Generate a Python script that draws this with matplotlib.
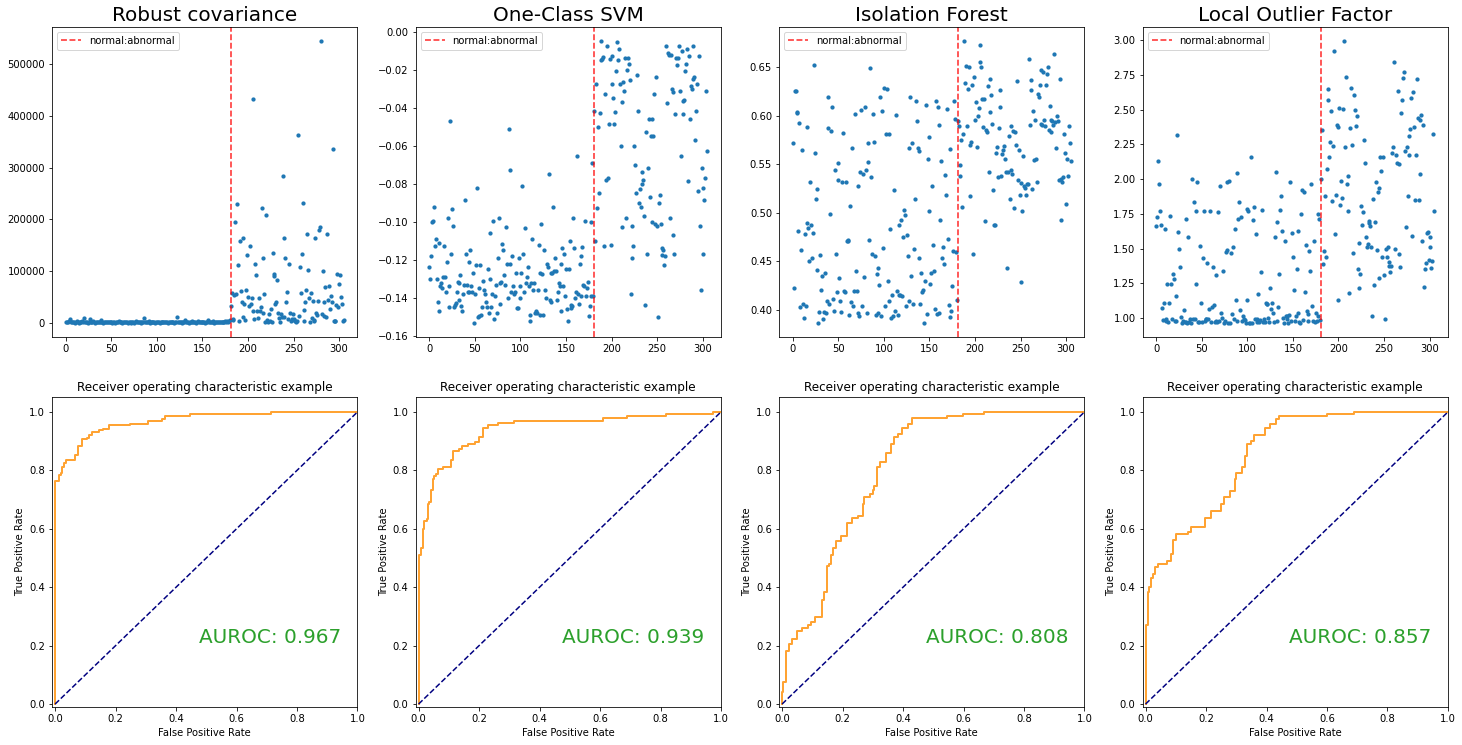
import numpy as np
import matplotlib
matplotlib.use("Agg")
import matplotlib.pyplot as plt

# ---------------- data ----------------
titles = ["Robust covariance", "One-Class SVM", "Isolation Forest", "Local Outlier Factor"]
auroc = [0.967, 0.939, 0.808, 0.857]
split_index = 181

rc_normal = [
    1500, 900, 2100, 4200, 7600, 3100, 1200, 800, 2600, 1800,
    600, 1400, 2900, 1100, 700, 2200, 1300, 900, 3400, 1600,
    9500, 2300, 1000, 1700, 600, 2500, 7400, 1900, 800, 1200,
    3000, 1400, 700, 1100, 2000, 900, 1500, 2600, 1300, 5600,
    1000, 700, 1800, 1200, 2400, 800, 1100, 1600, 900, 1300,
    2100, 700, 1000, 1500, 600, 1900, 1200, 800, 2700, 1100,
    900, 1400, 600, 1700, 1000, 2300, 800, 1300, 700, 1800,
    1100, 600, 2000, 900, 1500, 700, 1200, 3300, 800, 1400,
    1000, 2500, 700, 1300, 900, 1600, 9600, 1100, 800, 1900,
    1200, 4500, 700, 1500, 1000, 2200, 800, 1300, 600, 1700,
    1100, 900, 2600, 700, 1400, 1000, 1800, 800, 1200, 2100,
    900, 1500, 700, 1300, 1000, 1900, 800, 2400, 1100, 700,
    1200, 900, 11500, 1600, 800, 1400, 2000, 700, 1100, 1500,
    900, 5500, 2300, 800, 1200, 700, 1800, 1000, 1300, 2700,
    800, 1100, 1600, 700, 1400, 4000, 900, 1200, 2000, 800,
    1300, 1000, 1700, 700, 1100, 2500, 5000, 900, 1400, 800,
    1200, 3800, 1000, 700, 1600, 900, 2200, 1100, 800, 1500,
    1300, 2600, 900, 1700, 1000, 2900, 1200, 4100, 1800, 3500,
    6500,
]
rc_abnormal = [
    32000, 57000, 8000, 5000, 54000, 196000, 56000, 229000, 112000, 4000,
    158000, 62000, 41000, 12000, 165000, 37000, 6000, 64000, 132000, 51000,
    32000, 149000, 37000, 48000, 432000, 22000, 7000, 114000, 92000, 22000,
    9000, 48000, 23000, 30000, 223000, 19000, 125000, 56000, 2000, 209000,
    6000, 1000, 17000, 4000, 27000, 2000, 136000, 90000, 94000, 37000,
    41000, 82000, 19000, 10000, 1000, 17000, 12000, 284000, 11000, 165000,
    125000, 41000, 59000, 8000, 114000, 19000, 3000, 8000, 17000, 5000,
    8000, 3000, 1000, 3000, 364000, 14000, 108000, 58000, 134000, 231000,
    24000, 3000, 41000, 63000, 172000, 103000, 48000, 2000, 58000, 9000,
    43000, 6000, 4000, 165000, 19000, 15000, 43000, 180000, 185000, 545000,
    17000, 100000, 14000, 41000, 69000, 11000, 171000, 45000, 72000, 27000,
    52000, 41000, 336000, 3000, 4000, 3000, 35000, 95000, 30000, 76000,
    93000, 51000, 37000, 3000, 6000,
]

svm_normal = [
    -0.124, -0.130, -0.118, -0.100, -0.0997, -0.0925, -0.113, -0.109, -0.130, -0.142,
    -0.111, -0.147, -0.134, -0.132, -0.135, -0.129, -0.113, -0.129, -0.137, -0.121,
    -0.098, -0.134, -0.145, -0.047, -0.117, -0.0935, -0.102, -0.145, -0.144, -0.1425,
    -0.137, -0.1315, -0.132, -0.141, -0.128, -0.1445, -0.147, -0.138, -0.133, -0.0885,
    -0.117, -0.133, -0.137, -0.121, -0.137, -0.115, -0.134, -0.137, -0.127, -0.153,
    -0.138, -0.123, -0.082, -0.150, -0.135, -0.1495, -0.123, -0.149, -0.145, -0.131,
    -0.136, -0.138, -0.142, -0.145, -0.125, -0.148, -0.106, -0.130, -0.145, -0.138,
    -0.0995, -0.151, -0.139, -0.133, -0.148, -0.119, -0.098, -0.132, -0.143, -0.1315,
    -0.1115, -0.115, -0.128, -0.133, -0.103, -0.122, -0.140, -0.051, -0.073, -0.122,
    -0.137, -0.118, -0.134, -0.138, -0.137, -0.127, -0.1455, -0.1455, -0.119, -0.134,
    -0.140, -0.127, -0.081, -0.117, -0.137, -0.1035, -0.132, -0.129, -0.124, -0.134,
    -0.149, -0.152, -0.132, -0.109, -0.136, -0.132, -0.148, -0.147, -0.148, -0.136,
    -0.112, -0.149, -0.127, -0.101, -0.1275, -0.149, -0.115, -0.136, -0.140, -0.122,
    -0.124, -0.075, -0.141, -0.127, -0.142, -0.127, -0.092, -0.126, -0.119, -0.126,
    -0.141, -0.137, -0.132, -0.134, -0.147, -0.122, -0.114, -0.134, -0.117, -0.139,
    -0.125, -0.146, -0.152, -0.125, -0.110, -0.144, -0.1455, -0.1445, -0.098, -0.114,
    -0.140, -0.137, -0.0655, -0.138, -0.143, -0.122, -0.139, -0.118, -0.1135, -0.133,
    -0.134, -0.0995, -0.139, -0.135, -0.1315, -0.1497, -0.1445, -0.139, -0.100, -0.069,
    -0.139,
]
svm_abnormal = [
    -0.042, -0.110, -0.0275, -0.093, -0.050, -0.085, -0.043, -0.005, -0.015, -0.0145,
    -0.0135, -0.113, -0.033, -0.078, -0.0075, -0.077, -0.0485, -0.0145, -0.112, -0.013,
    -0.0275, -0.035, -0.0485, -0.0425, -0.0207, -0.0056, -0.015, -0.0093, -0.0275, -0.060,
    -0.037, -0.103, -0.0263, -0.031, -0.0137, -0.098, -0.0202, -0.014, -0.017, -0.0255,
    -0.138, -0.119, -0.102, -0.113, -0.060, -0.070, -0.085, -0.023, -0.042, -0.090,
    -0.083, -0.092, -0.080, -0.074, -0.078, -0.097, -0.144, -0.053, -0.117, -0.072,
    -0.046, -0.087, -0.055, -0.100, -0.046, -0.055, -0.033, -0.101, -0.024, -0.102,
    -0.150, -0.090, -0.086, -0.101, -0.114, -0.1175, -0.115, -0.123, -0.118, -0.0074,
    -0.0377, -0.0114, -0.0123, -0.098, -0.0123, -0.030, -0.032, -0.107, -0.117, -0.0435,
    -0.014, -0.0175, -0.014, -0.0074, -0.031, -0.0655, -0.010, -0.0365, -0.0435, -0.036,
    -0.021, -0.017, -0.009, -0.0785, -0.013, -0.046, -0.0285, -0.030, -0.025, -0.0074,
    -0.024, -0.057, -0.042, -0.0275, -0.084, -0.013, -0.102, -0.136, -0.0715, -0.117,
    -0.082, -0.0885, -0.077, -0.031, -0.063,
]

if_normal = [
    0.572, 0.423, 0.626, 0.626, 0.603, 0.604, 0.481, 0.593, 0.403, 0.462,
    0.565, 0.406, 0.392, 0.478, 0.404, 0.490, 0.588, 0.484, 0.450, 0.532,
    0.487, 0.453, 0.479, 0.652, 0.562, 0.514, 0.525, 0.441, 0.387, 0.398,
    0.457, 0.421, 0.435, 0.391, 0.398, 0.438, 0.397, 0.409, 0.619, 0.587,
    0.406, 0.499, 0.584, 0.609, 0.411, 0.399, 0.544, 0.458, 0.418, 0.534,
    0.551, 0.433, 0.409, 0.398, 0.532, 0.582, 0.419, 0.418, 0.532, 0.471,
    0.471, 0.472, 0.395, 0.507, 0.408, 0.567, 0.404, 0.419, 0.602, 0.440,
    0.420, 0.528, 0.397, 0.394, 0.542, 0.606, 0.404, 0.540, 0.434, 0.609,
    0.544, 0.397, 0.572, 0.552, 0.472, 0.649, 0.537, 0.458, 0.602, 0.573,
    0.456, 0.395, 0.437, 0.397, 0.443, 0.426, 0.619, 0.394, 0.605, 0.464,
    0.629, 0.404, 0.581, 0.628, 0.430, 0.409, 0.581, 0.483, 0.392, 0.415,
    0.394, 0.524, 0.399, 0.601, 0.420, 0.395, 0.415, 0.488, 0.415, 0.493,
    0.414, 0.475, 0.503, 0.498, 0.404, 0.477, 0.456, 0.409, 0.567, 0.619,
    0.435, 0.572, 0.406, 0.463, 0.514, 0.615, 0.595, 0.567, 0.454, 0.564,
    0.406, 0.438, 0.418, 0.421, 0.387, 0.430, 0.611, 0.396, 0.556, 0.578,
    0.502, 0.427, 0.438, 0.528, 0.467, 0.440, 0.401, 0.615, 0.396, 0.609,
    0.591, 0.397, 0.493, 0.553, 0.454, 0.465, 0.447, 0.539, 0.518, 0.607,
    0.473, 0.405, 0.393, 0.566, 0.399, 0.425, 0.461, 0.615, 0.597, 0.460,
    0.410,
]
if_abnormal = [
    0.595, 0.590, 0.549, 0.538, 0.575, 0.506, 0.581, 0.677, 0.634, 0.651,
    0.590, 0.628, 0.650, 0.570, 0.517, 0.573, 0.632, 0.458, 0.640, 0.596,
    0.614, 0.568, 0.600, 0.608, 0.655, 0.673, 0.650, 0.617, 0.588, 0.617,
    0.492, 0.585, 0.583, 0.631, 0.542, 0.604, 0.638, 0.621, 0.592, 0.524,
    0.488, 0.488, 0.562, 0.568, 0.537, 0.587, 0.627, 0.609, 0.538, 0.561,
    0.565, 0.569, 0.556, 0.542, 0.443, 0.542, 0.579, 0.514, 0.544, 0.590,
    0.540, 0.584, 0.505, 0.583, 0.570, 0.636, 0.534, 0.565, 0.518, 0.429,
    0.531, 0.502, 0.559, 0.528, 0.526, 0.518, 0.530, 0.530, 0.659, 0.591,
    0.637, 0.627, 0.525, 0.605, 0.554, 0.596, 0.555, 0.532, 0.622, 0.619,
    0.632, 0.647, 0.592, 0.591, 0.645, 0.596, 0.590, 0.632, 0.643, 0.650,
    0.585, 0.610, 0.583, 0.596, 0.595, 0.591, 0.664, 0.594, 0.567, 0.600,
    0.595, 0.534, 0.638, 0.535, 0.493, 0.532, 0.537, 0.581, 0.562, 0.509,
    0.555, 0.538, 0.590, 0.572, 0.553,
]

lof_normal = [
    1.666, 1.726, 2.127, 1.966, 1.774, 1.673, 1.072, 0.988, 1.113, 1.642,
    0.981, 0.993, 1.245, 0.976, 1.113, 1.738, 1.245, 0.993, 1.317, 1.281,
    0.981, 0.981, 1.161, 2.315, 1.623, 1.498, 1.365, 1.010, 0.969, 0.981,
    1.058, 0.976, 1.714, 0.976, 0.969, 1.587, 0.976, 0.993, 0.969, 1.998,
    0.993, 1.839, 0.993, 1.245, 1.774, 1.978, 0.976, 0.976, 1.522, 1.113,
    0.976, 1.430, 1.774, 0.981, 0.993, 0.993, 1.397, 0.993, 1.065, 1.769,
    0.976, 1.082, 1.365, 1.094, 0.976, 1.312, 0.981, 0.976, 1.762, 0.981,
    1.954, 1.041, 1.005, 1.337, 0.969, 0.981, 1.474, 1.978, 1.490, 0.969,
    1.990, 0.969, 1.469, 1.029, 1.514, 0.998, 1.642, 1.130, 2.043, 0.981,
    1.714, 1.834, 1.058, 1.731, 0.981, 1.017, 0.993, 0.986, 0.969, 1.786,
    1.130, 1.774, 0.969, 0.969, 2.159, 0.969, 1.707, 1.803, 0.993, 1.606,
    0.976, 0.993, 1.173, 0.976, 0.986, 1.329, 1.779, 0.974, 0.993, 0.976,
    1.113, 1.106, 1.101, 1.000, 0.976, 1.221, 1.065, 1.113, 1.041, 0.976,
    1.587, 2.050, 0.981, 1.690, 1.082, 1.317, 1.781, 1.882, 1.630, 1.000,
    0.969, 1.558, 1.017, 0.993, 1.017, 0.969, 1.024, 1.978, 0.981, 1.613,
    1.442, 1.202, 0.981, 1.017, 1.353, 1.625, 1.041, 0.976, 0.969, 1.750,
    1.923, 0.986, 1.906, 1.192, 1.526, 1.053, 0.981, 1.029, 1.481, 1.341,
    1.966, 1.089, 0.981, 1.558, 0.976, 1.041, 0.981, 1.017, 1.750, 1.714,
    0.990,
]
lof_abnormal = [
    2.002, 2.351, 1.389, 1.481, 1.882, 1.438, 2.075, 2.567, 2.651, 2.159,
    2.267, 2.488, 1.846, 2.236, 2.921, 1.606, 1.887, 2.387, 1.132, 2.375,
    2.512, 1.815, 1.990, 1.863, 2.507, 2.993, 2.231, 2.736, 1.962, 1.774,
    2.022, 1.180, 2.368, 2.659, 2.243, 1.466, 2.608, 2.500, 2.380, 2.452,
    1.353, 1.214, 1.538, 1.317, 1.810, 1.673, 1.767, 2.279, 2.115, 1.582,
    1.514, 1.534, 1.702, 1.683, 1.666, 1.510, 1.017, 1.858, 1.238, 1.690,
    1.978, 1.490, 1.906, 1.286, 1.938, 2.159, 2.058, 1.442, 2.159, 1.310,
    0.998, 1.498, 1.442, 1.510, 1.373, 1.401, 1.329, 1.373, 2.190, 2.231,
    2.844, 1.498, 2.171, 2.115, 2.635, 1.462, 2.111, 1.370, 2.476, 2.572,
    2.724, 2.772, 2.200, 1.659, 2.231, 1.882, 2.171, 2.308, 2.363, 2.584,
    1.594, 2.627, 2.375, 1.853, 2.171, 2.719, 2.442, 1.853, 2.428, 2.038,
    2.459, 1.558, 2.387, 1.226, 1.353, 1.394, 1.613, 1.618, 1.418, 1.587,
    1.514, 1.360, 1.410, 2.327, 1.774,
]

# ROC step curves (false positive rate, true positive rate)
rc_fpr = [0, 0, 0.013, 0.018, 0.024, 0.031, 0.035, 0.065, 0.076, 0.09, 0.105, 0.113, 0.122,
          0.146, 0.16, 0.178, 0.249, 0.306, 0.354, 0.365, 0.447, 0.713, 1.0]
rc_tpr = [0, 0.763, 0.785, 0.79, 0.811, 0.826, 0.837, 0.853, 0.883, 0.906, 0.912, 0.92, 0.931,
          0.937, 0.942, 0.954, 0.96, 0.968, 0.977, 0.986, 0.993, 1.0, 1.0]
svm_fpr = [0, 0, 0.008, 0.014, 0.017, 0.028, 0.031, 0.036, 0.042, 0.047, 0.05, 0.057, 0.064, 0.08,
           0.108, 0.115, 0.133, 0.145, 0.163, 0.187, 0.2, 0.212, 0.23, 0.262, 0.315, 0.611, 0.688,
           0.818, 0.975, 1.0]
svm_tpr = [0, 0.511, 0.533, 0.599, 0.628, 0.635, 0.685, 0.693, 0.734, 0.771, 0.78, 0.788, 0.805,
           0.812, 0.837, 0.868, 0.872, 0.883, 0.889, 0.896, 0.914, 0.945, 0.954, 0.962, 0.97, 0.978,
           0.985, 0.992, 1.0, 1.0]
if_fpr = [0, 0, 0.004, 0.013, 0.024, 0.033, 0.05, 0.065, 0.085, 0.095, 0.11, 0.133, 0.14, 0.147,
          0.155, 0.162, 0.17, 0.18, 0.195, 0.215, 0.232, 0.25, 0.267, 0.272, 0.29, 0.3, 0.305, 0.315,
          0.325, 0.345, 0.36, 0.37, 0.385, 0.395, 0.415, 0.43, 0.545, 0.598, 0.667, 1.0]
if_tpr = [0, 0.041, 0.074, 0.183, 0.207, 0.224, 0.25, 0.262, 0.272, 0.281, 0.298, 0.357, 0.384,
          0.471, 0.48, 0.511, 0.535, 0.559, 0.576, 0.62, 0.636, 0.645, 0.685, 0.71, 0.72, 0.733,
          0.748, 0.811, 0.828, 0.86, 0.89, 0.915, 0.925, 0.945, 0.96, 0.979, 0.986, 0.992, 1.0, 1.0]
lof_fpr = [0, 0, 0.007, 0.013, 0.018, 0.025, 0.03, 0.04, 0.07, 0.083, 0.09, 0.1, 0.14, 0.15, 0.197,
           0.215, 0.25, 0.26, 0.28, 0.295, 0.3, 0.32, 0.33, 0.337, 0.35, 0.36, 0.395, 0.412, 0.43,
           0.44, 0.6, 0.689, 1.0]
lof_tpr = [0, 0.27, 0.384, 0.4, 0.43, 0.445, 0.47, 0.478, 0.49, 0.515, 0.562, 0.582, 0.59, 0.605,
           0.637, 0.66, 0.685, 0.71, 0.73, 0.771, 0.79, 0.81, 0.85, 0.89, 0.9, 0.92, 0.945, 0.96,
           0.975, 0.986, 0.993, 1.0, 1.0]

score_sets = [(rc_normal, rc_abnormal), (svm_normal, svm_abnormal),
              (if_normal, if_abnormal), (lof_normal, lof_abnormal)]
roc_sets = [(rc_fpr, rc_tpr), (svm_fpr, svm_tpr), (if_fpr, if_tpr), (lof_fpr, lof_tpr)]

# ---------------- figure ----------------
DPI = 72
fig, axes = plt.subplots(2, 4, figsize=(1462 / DPI, 745 / DPI), dpi=DPI)
fig.patch.set_facecolor("white")
fig.subplots_adjust(left=0.0356, right=0.9904, top=0.9638, bottom=0.051,
                    wspace=0.19, hspace=0.196)

for ax, title, (normal, abnormal) in zip(axes[0], titles, score_sets):
    scores = list(normal) + list(abnormal)
    x = np.arange(len(scores))
    ax.scatter(x, scores, s=18, color="C0", linewidths=0)
    ax.axvline(split_index, color="red", linestyle="--", alpha=0.8, lw=1.6,
               label="normal:abnormal")
    ax.legend(loc="upper left")
    ax.set_title(title, fontsize=20)
    ax.set_xticks([0, 50, 100, 150, 200, 250, 300])

axes[0, 1].set_ylim(-0.1604, 0.0024)

for ax, (fpr, tpr), score in zip(axes[1], roc_sets, auroc):
    ax.plot(fpr, tpr, color="darkorange", lw=2, alpha=0.8, drawstyle="steps-post")
    ax.plot([0, 1], [0, 1], color="navy", lw=1.5, linestyle="--")
    ax.set_xlim(-0.01, 1.0)
    ax.set_ylim(-0.01, 1.05)
    ax.set_xlabel("False Positive Rate")
    ax.set_ylabel("True Positive Rate")
    ax.set_title("Receiver operating characteristic example")
    ax.text(0.475, 0.21, f"AUROC: {score:.3f}", fontsize=20, color="C2")

fig.savefig("out.png", dpi=DPI, facecolor="white")
